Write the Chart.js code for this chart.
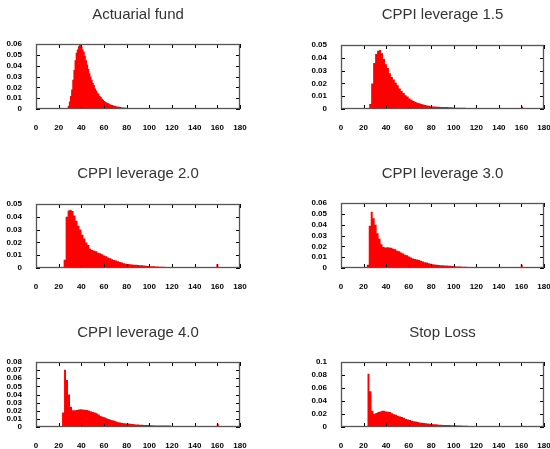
<!DOCTYPE html>
<html>
<head>
<meta charset="utf-8">
<title>Terminal value distributions</title>
<script src="https://cdn.jsdelivr.net/npm/chart.js@4.4.1/dist/chart.umd.min.js"></script>
<style>
  html, body { margin: 0; padding: 0; background: #fff; }
  #wrap { position: relative; width: 550px; height: 449px; overflow: hidden; }
  #wrap canvas { position: absolute; }
</style>
</head>
<body>
<div id="wrap"></div>
<script>
// Histogram data: one array of bin densities per strategy
const titles = ['Actuarial fund', 'CPPI leverage 1.5', 'CPPI leverage 2.0',
                'CPPI leverage 3.0', 'CPPI leverage 4.0', 'Stop Loss'];

// x axis ticks (terminal value)
const xMin = 0, xMax = 180, xStep = 20;
// y axis ticks per panel
const yMax = [0.06, 0.05, 0.05, 0.06, 0.08, 0.1];
const yStep = [0.01, 0.01, 0.01, 0.01, 0.01, 0.02];

// left edge and width of the first bin for each panel
const binStart = [27, 25, 24.4, 22.85, 23, 23.5];
const binWidth = [1, 1.75, 1.75, 1.75, 1.75, 1.75];

const actuarialFund = [
  0.001, 0.003, 0.007, 0.012, 0.018, 0.027, 0.036, 0.045, 0.052, 0.055,
  0.058, 0.060, 0.060, 0.058, 0.055, 0.053, 0.049, 0.045, 0.041, 0.037,
  0.033, 0.030, 0.027, 0.024, 0.022, 0.019, 0.017, 0.015, 0.014, 0.012,
  0.011, 0.0095, 0.0085, 0.0075, 0.0068, 0.006, 0.0055, 0.005, 0.0045, 0.004,
  0.0036, 0.0033, 0.003, 0.0027, 0.0024, 0.0022, 0.002, 0.0018, 0.0016, 0.0015,
  0.0014, 0.0013, 0.0012, 0.001
];

const cppi15 = [
  0.004, 0.02, 0.036, 0.043, 0.0455, 0.046, 0.0435, 0.039, 0.035, 0.032,
  0.028, 0.025, 0.023, 0.0205, 0.0185, 0.016, 0.014, 0.0125, 0.0108, 0.0098,
  0.0083, 0.0072, 0.0063, 0.0056, 0.0049, 0.0044, 0.0039, 0.0035, 0.0032, 0.0028,
  0.0025, 0.0022, 0.002, 0.0019, 0.0018, 0.0017, 0.0016, 0.0016, 0.0015, 0.0015,
  0.0014, 0.0013, 0.0012, 0.001, 0.001, 0.001, 0.0009, 0.0009, 0.0009, 0.0008,
  0.0008, 0.0008, 0.0007, 0.0007, 0, 0, 0, 0, 0, 0,
  0, 0, 0, 0, 0, 0, 0, 0, 0, 0,
  0, 0, 0, 0, 0, 0, 0, 0.002
];

const cppi20 = [
  0.0065, 0.040, 0.045, 0.0455, 0.0445, 0.041, 0.037, 0.033, 0.030, 0.026,
  0.023, 0.020, 0.018, 0.015, 0.014, 0.0135, 0.013, 0.012, 0.0115, 0.0108,
  0.0098, 0.0091, 0.0083, 0.0076, 0.0069, 0.0063, 0.0058, 0.0052, 0.0047, 0.0042,
  0.0038, 0.0034, 0.0031, 0.0029, 0.0027, 0.0026, 0.0025, 0.0023, 0.0021, 0.0021,
  0.0019, 0.0017, 0.0016, 0.0014, 0.0013, 0.0013, 0.0012, 0.0011, 0.001, 0.0009,
  0.0009, 0.0008, 0.0007, 0.0007, 0.0006, 0.0005, 0.0005, 0.0004, 0, 0.0005,
  0, 0, 0, 0, 0, 0, 0, 0, 0, 0,
  0, 0, 0, 0, 0, 0, 0, 0.003
];

const cppi30 = [
  0.003, 0.039, 0.052, 0.046, 0.040, 0.032, 0.027, 0.022, 0.0195, 0.019,
  0.0192, 0.019, 0.0186, 0.0178, 0.0172, 0.016, 0.0155, 0.0143, 0.0134, 0.0123,
  0.0117, 0.0107, 0.0097, 0.0088, 0.0084, 0.0079, 0.0073, 0.0066, 0.006, 0.0054,
  0.005, 0.0044, 0.004, 0.0035, 0.0032, 0.0029, 0.0027, 0.0026, 0.0025, 0.0023,
  0.0022, 0.0021, 0.002, 0.0018, 0.0016, 0.0015, 0.0014, 0.0013, 0.0012, 0.0012,
  0.0011, 0.001, 0.001, 0.001, 0.0009, 0.0009, 0.0008, 0.0007, 0, 0,
  0, 0, 0, 0, 0, 0, 0, 0, 0, 0,
  0, 0, 0, 0, 0, 0, 0, 0, 0.003
];

const cppi40 = [
  0.018, 0.0705, 0.058, 0.040, 0.025, 0.0205, 0.0205, 0.021, 0.0215, 0.0217,
  0.0215, 0.0213, 0.021, 0.0203, 0.0195, 0.0185, 0.0177, 0.0168, 0.0155, 0.0135,
  0.0127, 0.0119, 0.0108, 0.0098, 0.0088, 0.0082, 0.0077, 0.0067, 0.006, 0.0054,
  0.0049, 0.0046, 0.0044, 0.0042, 0.004, 0.0037, 0.0034, 0.0032, 0.003, 0.0029,
  0.0028, 0.0026, 0.0025, 0.0024, 0.0022, 0.0021, 0.002, 0.002, 0.0019, 0.0019,
  0.0019, 0.0018, 0.0018, 0.0017, 0.0017, 0, 0, 0, 0, 0,
  0, 0, 0, 0, 0, 0, 0, 0, 0, 0,
  0, 0, 0, 0, 0, 0, 0, 0, 0.004
];

const stopLoss = [
  0.082, 0.055, 0.025, 0.0205, 0.0215, 0.023, 0.024, 0.025, 0.025, 0.024,
  0.0235, 0.023, 0.021, 0.0198, 0.019, 0.0175, 0.0163, 0.0152, 0.0142, 0.0124,
  0.0115, 0.0106, 0.0096, 0.0089, 0.0083, 0.0077, 0.007, 0.0065, 0.006, 0.0057,
  0.0053, 0.005, 0.0047, 0.0044, 0.0041, 0.0038, 0.0036, 0.0034, 0.0032, 0.0031,
  0.003, 0.0029, 0.0028, 0.0027, 0.0026, 0.0025, 0.0023, 0.0022, 0.0021, 0.002,
  0.002, 0, 0, 0, 0, 0, 0, 0, 0, 0,
  0, 0, 0, 0, 0, 0, 0, 0, 0, 0,
  0, 0, 0, 0, 0, 0, 0, 0, 0.002
];

const series = [actuarialFund, cppi15, cppi20, cppi30, cppi40, stopLoss];

// panel placement on the page
const panelLeft = [0, 275, 0, 275, 0, 275];
const panelTop = [0, 0, 150, 150, 300, 300];
const panelHeight = [150, 150, 150, 150, 149, 149];
const titlePadTop = [6, 6, 15, 15, 24, 24];
const titlePadBottom = [20, 21, 21, 20, 20, 20];
const xAxisHeight = [41, 41, 32, 32, 22, 22];

Chart.defaults.font.family = '"Liberation Sans", Arial, sans-serif';

// turn bin densities into step-line points at bin centres, closed to zero at both ends
function binPoints(start, width, values) {
  const pts = [{ x: start - width / 2, y: 0 }];
  values.forEach((v, i) => pts.push({ x: start + (i + 0.5) * width, y: v }));
  pts.push({ x: start + (values.length + 0.5) * width, y: 0 });
  return pts;
}

// box around the plot with short inward tick marks on all four sides
const framePlugin = {
  id: 'frame',
  afterDatasetsDraw(chart) {
    const { ctx, chartArea: a, scales: { x, y } } = chart;
    const len = 4;
    ctx.save();
    ctx.lineWidth = 1;
    ctx.strokeStyle = '#000';
    ctx.beginPath();
    x.ticks.forEach(t => {
      const px = Math.round(x.getPixelForValue(t.value)) + 0.5;
      ctx.moveTo(px, a.top);
      ctx.lineTo(px, a.top + len);
      ctx.moveTo(px, a.bottom);
      ctx.lineTo(px, a.bottom - len);
    });
    y.ticks.forEach(t => {
      const py = Math.round(y.getPixelForValue(t.value)) + 0.5;
      ctx.moveTo(a.left, py);
      ctx.lineTo(a.left + len, py);
      ctx.moveTo(a.right, py);
      ctx.lineTo(a.right - len, py);
    });
    ctx.stroke();
    ctx.strokeStyle = '#555';
    ctx.lineWidth = 1.3;
    ctx.strokeRect(a.left + 0.5, a.top + 0.5, a.width - 1, a.height - 1);
    ctx.restore();
  }
};

const wrap = document.getElementById('wrap');

titles.forEach((title, i) => {
  const rightCol = i % 2 === 1;
  const canvas = document.createElement('canvas');
  canvas.width = 275;
  canvas.height = panelHeight[i];
  canvas.style.left = panelLeft[i] + 'px';
  canvas.style.top = panelTop[i] + 'px';
  wrap.appendChild(canvas);

  new Chart(canvas, {
    type: 'line',
    data: {
      datasets: [{
        data: binPoints(binStart[i], binWidth[i], series[i]),
        stepped: 'middle',
        fill: 'origin',
        backgroundColor: '#ff0000',
        borderColor: 'rgba(0,0,0,0)',
        borderWidth: 0,
        pointRadius: 0
      }]
    },
    options: {
      responsive: false,
      animation: false,
      events: [],
      layout: {
        padding: { top: 0, bottom: 0, left: rightCol ? 30 : 0, right: rightCol ? 6 : 35 }
      },
      plugins: {
        legend: { display: false },
        tooltip: { enabled: false },
        title: {
          display: true,
          fullSize: false,
          text: title,
          color: '#333',
          font: { size: 15, weight: 'normal' },
          padding: { top: titlePadTop[i], bottom: titlePadBottom[i] }
        }
      },
      scales: {
        x: {
          type: 'linear',
          min: xMin,
          max: xMax,
          grid: { display: false, drawTicks: false },
          border: { display: false },
          ticks: {
            stepSize: xStep,
            autoSkip: false,
            padding: 14,
            maxRotation: 0,
            color: '#000',
            font: { size: 8, weight: 'bold' }
          },
          afterFit(scale) {
            scale.height = xAxisHeight[i];
            scale.paddingLeft = 0;
            scale.paddingRight = 0;
          }
        },
        y: {
          min: 0,
          max: yMax[i],
          grid: { display: false, drawTicks: false },
          border: { display: false },
          ticks: {
            stepSize: yStep[i],
            autoSkip: false,
            padding: 14,
            color: '#000',
            font: { size: 8, weight: 'bold' },
            callback: v => String(+v.toFixed(3))
          },
          afterFit(scale) {
            scale.width = 36;
            scale.paddingTop = 0;
            scale.paddingBottom = 0;
          }
        }
      }
    },
    plugins: [framePlugin]
  });
});
</script>
</body>
</html>
